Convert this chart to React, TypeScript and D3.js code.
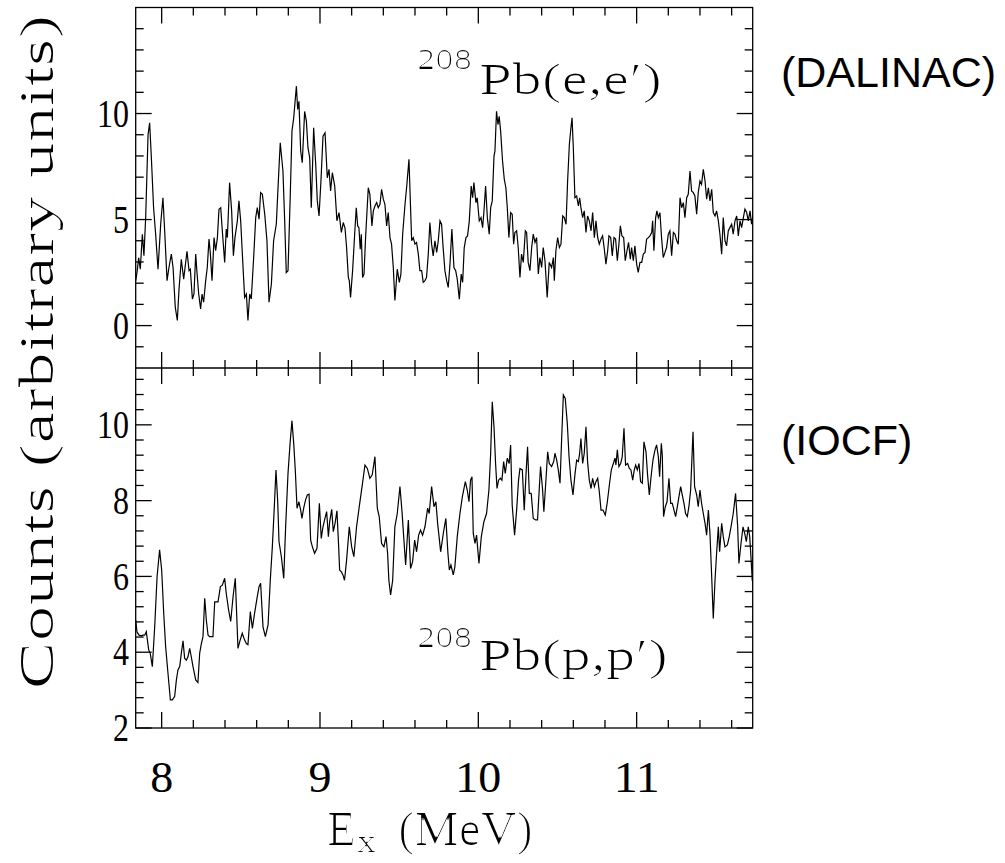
import React from 'react';
import * as d3 from 'd3';

// 208Pb(e,e') spectrum (DALINAC)
const eeEnergy = [7.836,7.844,7.855,7.865,7.878,7.888,7.899,7.914,7.924,7.935,7.949,7.962,7.977,7.994,8.008,8.019,8.034,8.046,8.061,8.072,8.086,8.099,8.109,8.124,8.139,8.160,8.173,8.181,8.194,8.204,8.215,8.223,8.234,8.246,8.255,8.265,8.278,8.288,8.299,8.307,8.318,8.331,8.341,8.352,8.362,8.373,8.383,8.398,8.408,8.415,8.429,8.442,8.453,8.463,8.478,8.488,8.499,8.514,8.524,8.535,8.545,8.556,8.566,8.581,8.594,8.604,8.615,8.625,8.636,8.651,8.665,8.678,8.693,8.707,8.724,8.739,8.749,8.766,8.777,8.787,8.798,8.813,8.823,8.834,8.851,8.859,8.867,8.878,8.888,8.903,8.914,8.924,8.935,8.945,8.960,8.973,8.983,8.994,9.006,9.019,9.032,9.046,9.057,9.067,9.078,9.093,9.107,9.120,9.135,
9.147,9.158,9.168,9.179,9.185,9.193,9.206,9.219,9.229,9.238,9.246,9.254,9.261,9.269,9.278,9.288,9.305,9.315,9.328,9.337,9.347,9.358,9.368,9.379,9.389,9.400,9.410,9.421,9.431,9.442,9.452,9.463,9.473,9.488,9.501,9.511,9.522,9.537,9.547,9.562,9.572,9.579,9.589,9.600,9.610,9.621,9.631,9.642,9.652,9.663,9.673,9.684,9.694,9.705,9.715,9.726,9.737,9.747,9.758,9.768,9.777,9.789,9.800,9.810,9.821,9.833,9.846,9.857,9.867,9.880,9.892,9.901,9.911,9.922,9.932,9.943,9.955,9.964,9.972,9.985,9.993,10.006,10.017,10.027,10.035,10.046,10.057,10.069,10.078,10.088,10.099,10.105,10.115,10.124,10.132,10.141,10.153,10.164,10.174,10.183,10.193,10.204,10.214,10.223,10.231,10.242,10.252,10.263,10.273,10.284,10.297,10.305,10.315,10.326,10.337,10.347,10.358,10.368,10.379,10.389,10.400,10.410,10.421,10.435,10.448,
10.463,10.474,10.480,10.490,10.501,10.512,10.522,10.533,10.543,10.554,10.564,10.575,10.585,10.592,10.600,10.610,10.621,10.632,10.640,10.648,10.659,10.669,10.680,10.690,10.701,10.712,10.722,10.733,10.743,10.754,10.764,10.775,10.785,10.796,10.806,10.817,10.825,10.836,10.846,10.857,10.867,10.878,10.888,10.897,10.907,10.918,10.928,10.939,10.949,10.960,10.968,10.979,10.989,11.000,11.010,11.021,11.032,11.042,11.053,11.063,11.074,11.084,11.095,11.101,11.109,11.120,11.128,11.137,11.147,11.158,11.168,11.179,11.189,11.200,11.210,11.221,11.232,11.242,11.253,11.263,11.274,11.284,11.295,11.305,11.316,11.326,11.337,11.347,11.358,11.368,11.379,11.389,11.400,11.410,11.421,11.432,11.442,11.453,11.463,11.474,11.484,11.495,11.505,11.516,11.526,11.537,11.547,11.558,11.568,11.579,11.589,11.600,11.610,11.621,11.632,11.642,11.653,11.663,11.674,11.684,11.695,11.705,11.716,11.726,11.737];
const eeCounts = [2.12,2.5,3.2,2.66,4.3,3.3,5.1,9.0,9.56,7.9,5.56,4.3,2.66,4.8,6.03,4.47,2.12,2.74,3.37,2.74,0.86,0.24,1.65,3.13,2.19,3.5,2.59,2.66,1.25,1.49,3.37,2.5,1.49,0.78,1.49,1.1,2.12,2.74,4.08,3.45,2.12,4.15,3.53,4.15,5.49,5.56,4.47,2.98,4.55,4.15,6.74,5.41,3.29,4.15,4.94,5.88,4.94,2.74,1.33,1.49,0.24,1.49,1.25,3.21,5.09,5.56,5.02,6.27,6.19,5.25,4.0,1.1,1.96,4.0,4.78,7.13,8.62,7.29,4.94,2.5,2.59,6.35,9.17,9.8,11.29,10.19,10.58,8.23,7.68,10.1,9.64,8.39,7.92,5.56,9.33,7.6,5.88,5.17,6.82,8.93,9.09,6.97,7.37,6.35,7.21,6.58,4.94,5.33,4.39,
4.86,4.6,3.68,2.27,2.12,1.33,2.59,4.31,5.56,4.7,4.62,3.6,4.31,2.27,2.43,4.15,6.5,6.19,4.7,5.41,5.64,5.8,5.56,5.72,6.43,5.96,5.72,4.7,5.33,4.15,3.84,2.74,1.18,2.66,2.04,2.43,4.31,5.72,6.5,7.84,5.56,4.0,4.15,3.84,3.92,3.37,2.59,2.59,2.04,2.12,2.27,3.37,4.86,3.84,3.29,4.0,3.45,4.0,4.94,4.78,3.76,2.59,2.12,1.8,2.9,4.55,2.74,2.59,2.19,1.25,2.43,2.04,3.68,4.15,4.23,4.94,6.58,6.03,6.74,5.8,6.03,4.94,5.09,4.62,5.33,6.58,5.09,4.31,5.56,5.88,7.99,8.23,10.11,9.48,9.87,9.17,7.76,6.9,6.5,5.56,4.15,5.33,5.25,3.84,4.39,4.47,3.68,2.27,3.37,2.98,4.47,4.39,2.98,2.59,3.68,4.31,3.92,4.15,2.43,3.21,2.74,3.68,3.06,1.33,2.98,
2.74,3.21,2.12,3.53,4.15,3.68,3.84,5.17,5.09,4.78,6.82,8.54,9.33,9.8,8.39,6.03,6.11,5.64,6.03,5.56,5.09,5.41,4.39,5.17,4.94,4.47,5.33,4.15,4.94,4.15,3.84,4.08,4.23,3.6,2.9,3.53,4.23,4.15,3.29,4.15,4.08,3.06,3.84,4.7,4.23,4.15,3.06,3.53,3.92,3.13,3.68,3.06,3.76,2.9,2.51,2.98,2.98,3.37,3.45,4.08,4.15,4.23,4.39,4.94,3.53,5.09,5.41,5.09,5.33,4.08,3.21,3.45,3.68,4.31,4.47,3.29,4.39,4.31,4.0,3.84,6.03,5.56,5.8,5.09,6.03,6.19,7.29,6.35,6.27,6.11,5.25,6.27,6.82,6.66,7.37,6.82,5.96,6.5,5.88,6.43,5.33,5.17,5.41,4.94,4.31,3.37,5.09,4.0,3.76,4.47,4.62,4.78,4.31,4.94,5.17,4.23,4.94,4.62,5.09,5.49,5.33,4.94,5.41,4.78,5.33];

// 208Pb(p,p') spectrum (IOCF)
const ppEnergy = [7.836,7.844,7.857,7.872,7.882,7.893,7.903,7.918,7.928,7.941,7.956,7.971,7.987,8.000,8.013,8.025,8.040,8.055,8.067,8.082,8.093,8.103,8.114,8.124,8.135,8.145,8.156,8.166,8.177,8.187,8.198,8.215,8.229,8.240,8.251,8.261,8.272,8.282,8.293,8.303,8.324,8.335,8.356,8.371,8.383,8.398,8.408,8.423,8.436,8.451,8.465,8.482,8.493,8.509,8.524,8.535,8.545,8.560,8.573,8.587,8.602,8.615,8.625,8.640,8.655,8.672,8.686,8.699,8.712,8.722,8.733,8.741,8.756,8.771,8.783,8.798,8.811,8.823,8.834,8.844,8.855,8.867,8.878,8.886,8.897,8.909,8.920,8.931,8.941,8.952,8.966,8.981,8.996,9.008,9.019,9.029,9.042,9.053,9.061,9.074,9.084,9.095,9.107,9.118,9.124,9.135,9.145,
9.155,9.168,9.185,9.200,9.214,9.231,9.248,9.267,9.284,9.299,9.315,9.330,9.347,9.362,9.374,9.389,9.404,9.417,9.427,9.435,9.446,9.459,9.473,9.488,9.505,9.518,9.530,9.541,9.558,9.572,9.585,9.598,9.610,9.623,9.635,9.648,9.663,9.680,9.690,9.705,9.720,9.732,9.743,9.751,9.762,9.779,9.795,9.808,9.817,9.827,9.842,9.852,9.867,9.884,9.899,9.918,9.930,9.941,9.951,9.960,9.968,9.979,9.989,10.004,10.019,10.035,10.052,10.067,10.078,10.088,10.099,10.109,10.118,10.128,10.139,10.149,10.160,10.170,10.183,10.195,10.204,10.214,10.229,10.242,10.254,10.263,10.278,10.290,10.301,10.311,10.322,10.334,10.347,10.362,10.374,10.385,10.393,10.406,10.414,10.427,10.438,10.448,
10.463,10.476,10.484,10.495,10.505,10.516,10.526,10.537,10.549,10.562,10.573,10.585,10.598,10.610,10.621,10.632,10.640,10.648,10.659,10.669,10.680,10.690,10.701,10.712,10.722,10.733,10.743,10.754,10.764,10.775,10.787,10.802,10.815,10.829,10.840,10.853,10.863,10.869,10.878,10.888,10.899,10.909,10.920,10.930,10.943,10.954,10.964,10.975,10.985,10.994,11.004,11.015,11.025,11.036,11.046,11.059,11.069,11.080,11.090,11.103,11.116,11.126,11.137,11.145,11.156,11.162,11.170,11.181,11.192,11.204,11.215,11.225,11.236,11.246,11.257,11.267,11.278,11.288,11.299,11.309,11.320,11.330,11.341,11.356,11.366,11.379,11.389,11.400,11.410,11.421,11.432,11.442,11.453,11.463,11.474,11.484,11.495,11.505,11.516,11.524,11.537,11.547,11.558,11.573,11.585,11.596,11.610,11.625,11.638,11.646,11.659,11.672,11.682,11.693,11.705,11.714,11.722,11.730,11.737];
const ppCounts = [4.85,4.54,4.45,4.43,4.45,4.45,4.54,4.06,3.97,3.62,4.67,5.99,6.7,6.17,5.03,4.15,3.44,2.74,2.74,2.83,3.27,3.53,3.62,3.97,4.3,3.84,3.79,3.88,4.1,3.88,3.62,3.27,3.2,3.97,4.23,4.41,5.42,4.85,4.45,4.41,4.41,5.33,5.33,5.73,5.77,5.95,5.55,5.11,4.81,5.47,5.95,4.1,4.28,4.5,4.32,4.23,4.2,5.07,4.63,5.03,5.42,5.73,5.82,4.67,4.41,4.72,5.9,6.78,7.88,8.81,7.97,6.92,6.52,5.95,7.31,8.72,9.51,10.11,9.51,8.81,7.8,7.97,7.75,7.53,7.8,8.02,8.15,8.17,6.96,6.78,6.61,6.74,7.93,7.0,7.31,7.49,7.71,7.05,7.44,7.77,7.18,7.4,7.73,6.78,6.17,6.12,6.04,
5.9,6.43,7.31,6.78,6.52,7.31,7.84,8.41,8.94,8.85,8.59,8.68,9.16,7.8,7.58,6.87,6.78,7.05,6.61,5.9,5.51,5.9,7.31,7.66,8.37,7.71,6.96,6.3,7.49,6.21,6.39,6.96,6.65,7.09,7.22,7.09,7.31,7.8,7.66,8.37,7.84,7.97,7.4,7.09,6.65,7.14,7.53,6.61,6.17,6.3,6.04,6.26,7.05,7.66,8.1,8.5,8.28,7.97,8.54,8.63,7.14,6.87,7.09,6.34,7.05,7.44,7.66,8.28,9.25,10.61,9.95,8.98,8.32,8.54,8.59,8.54,9.03,8.72,9.12,8.98,9.47,7.88,7.09,7.75,8.54,8.85,8.81,7.75,8.68,9.42,8.19,8.19,7.53,7.49,7.49,8.32,8.9,8.28,7.71,8.54,9.29,8.98,
8.9,9.03,9.25,9.07,8.81,8.46,9.6,10.79,10.7,10.04,9.16,8.54,8.15,8.68,9.07,9.03,9.25,9.64,8.98,9.25,9.95,9.03,8.54,8.32,8.59,8.37,8.5,8.59,8.24,7.75,7.75,7.62,7.97,8.46,8.81,8.98,9.12,8.94,9.34,8.9,8.98,9.16,9.91,8.94,8.98,8.85,8.81,8.54,8.81,8.94,8.81,8.98,8.5,8.46,9.55,9.29,8.68,8.15,8.59,9.07,9.34,9.47,9.16,8.63,9.51,9.2,7.58,7.84,7.97,8.59,7.93,7.93,7.75,7.58,7.84,8.1,8.37,8.15,7.93,7.66,7.58,7.84,8.28,9.82,8.37,8.15,7.84,8.28,7.93,7.66,7.4,7.09,7.75,7.14,5.99,4.89,5.9,6.61,7.31,6.65,7.4,7.05,6.78,6.83,7.05,7.31,7.66,8.19,7.31,6.34,6.87,7.31,7.14,6.92,7.31,7.05,6.52,5.9,5.8];

const xDomain = [7.836, 11.733];
const xMajorTicks = [8, 9, 10, 11];
const xTickLabels = ['8', '9', '10', '11'];
const eeDomain = [-2, 15];
const eeMajorTicks = [0, 5, 10];
const eeTickLabels = ['0', '5', '10'];
const ppDomain = [2, 11.5];
const ppMajorTicks = [2, 4, 6, 8, 10];
const ppTickLabels = ['2', '4', '6', '8', '10'];

const SERIF = "'Liberation Serif', 'DejaVu Serif', serif";
const SANS = "'Liberation Sans', Arial, sans-serif";

export default function App() {
  const L = 135.7, R = 752.7, T = 7.5, M = 368, B = 728;
  const x = d3.scaleLinear().domain(xDomain).range([L, R]);
  const yTop = d3.scaleLinear().domain(eeDomain).range([M, T]);
  const yBot = d3.scaleLinear().domain(ppDomain).range([B, M]);

  const near = (a: number, arr: number[]) => arr.some((v) => Math.abs(v - a) < 1e-6);
  const xMinor = d3.range(8.0, 11.7, 0.2).map((v) => +v.toFixed(2)).filter((v) => !near(v, xMajorTicks));
  const eeMinor = d3.range(-1, 15, 1).filter((v) => !near(v, eeMajorTicks));
  const ppMinor = d3.range(2.4, 11.5, 0.4).map((v) => +v.toFixed(2)).filter((v) => !near(v, ppMajorTicks));

  const eeLine = d3.line<number>().x((_, i) => x(eeEnergy[i])).y((d) => yTop(d));
  const ppLine = d3.line<number>().x((_, i) => x(ppEnergy[i])).y((d) => yBot(d));

  const MAJ = 16, MIN = 8;
  const sw = 1.3;

  const panelTicks = (y: any, top: number, bottom: number, major: number[], minor: number[], key: string) => {
    const out: any[] = [];
    xMajorTicks.forEach((v, i) => {
      out.push(<line key={`${key}xt${i}`} x1={x(v)} x2={x(v)} y1={top} y2={top + MAJ} />);
      out.push(<line key={`${key}xb${i}`} x1={x(v)} x2={x(v)} y1={bottom} y2={bottom - MAJ} />);
    });
    xMinor.forEach((v, i) => {
      out.push(<line key={`${key}mt${i}`} x1={x(v)} x2={x(v)} y1={top} y2={top + MIN} />);
      out.push(<line key={`${key}mb${i}`} x1={x(v)} x2={x(v)} y1={bottom} y2={bottom - MIN} />);
    });
    major.forEach((v, i) => {
      out.push(<line key={`${key}yl${i}`} x1={L} x2={L + MAJ} y1={y(v)} y2={y(v)} />);
      out.push(<line key={`${key}yr${i}`} x1={R} x2={R - MAJ} y1={y(v)} y2={y(v)} />);
    });
    minor.forEach((v, i) => {
      out.push(<line key={`${key}ml${i}`} x1={L} x2={L + MIN} y1={y(v)} y2={y(v)} />);
      out.push(<line key={`${key}mr${i}`} x1={R} x2={R - MIN} y1={y(v)} y2={y(v)} />);
    });
    return out;
  };

  return (
    <svg width={1005} height={863} style={{ position: 'absolute', left: 0, top: 0, background: '#fff' }}>
      <defs>
        <clipPath id="clipTop"><rect x={L} y={T} width={R - L} height={M - T} /></clipPath>
        <clipPath id="clipBot"><rect x={L} y={M} width={R - L} height={B - M} /></clipPath>
        <filter id="thin" x="-5%" y="-20%" width="110%" height="140%">
          <feMorphology operator="erode" radius="1 0" />
        </filter>
      </defs>

      <path d={eeLine(eeCounts) || ''} fill="none" stroke="#000" strokeWidth={1.2} clipPath="url(#clipTop)" />
      <path d={ppLine(ppCounts) || ''} fill="none" stroke="#000" strokeWidth={1.2} clipPath="url(#clipBot)" />

      <g stroke="#000" strokeWidth={sw} fill="none">
        <rect x={L} y={T} width={R - L} height={B - T} />
        <line x1={L} x2={R} y1={M} y2={M} />
        {panelTicks(yTop, T, M, eeMajorTicks, eeMinor, 'top')}
        {panelTicks(yBot, M, B, ppMajorTicks, ppMinor, 'bot')}
      </g>

      <g fontFamily={SERIF} fontSize={39} fill="#000" textAnchor="end">
        {eeMajorTicks.map((v, i) => (
          <text key={`el${i}`} x={129} y={yTop(v)} dy="0.34em" textLength={eeTickLabels[i].length * 16} lengthAdjust="spacingAndGlyphs">{eeTickLabels[i]}</text>
        ))}
        {ppMajorTicks.map((v, i) => (
          <text key={`pl${i}`} x={129} y={yBot(v)} dy="0.34em" textLength={ppTickLabels[i].length * 16} lengthAdjust="spacingAndGlyphs">{ppTickLabels[i]}</text>
        ))}
      </g>
      <g fontFamily={SERIF} fontSize={44} fill="#000" textAnchor="middle">
        {xMajorTicks.map((v, i) => (
          <text key={`xl${i}`} x={x(v)} y={792} textLength={xTickLabels[i].length * 23} lengthAdjust="spacingAndGlyphs">{xTickLabels[i]}</text>
        ))}
      </g>

      <text fontFamily={SERIF} fontSize={48} fill="#000" textAnchor="middle" filter="url(#thin)"
        transform="translate(53,352) rotate(-90)" textLength={675} lengthAdjust="spacingAndGlyphs">
        Counts (arbitrary units)
      </text>

      <g fontFamily={SERIF} fill="#000" filter="url(#thin)">
        <text x={327} y={845} fontSize={48} textLength={29} lengthAdjust="spacingAndGlyphs">E</text>
        <text x={357} y={852} fontSize={32} textLength={19} lengthAdjust="spacingAndGlyphs">x</text>
        <text x={398} y={845} fontSize={48} textLength={135} lengthAdjust="spacingAndGlyphs">(MeV)</text>
      </g>

      <g fontFamily={SERIF} fill="#000" filter="url(#thin)">
        <text x={417} y={69} fontSize={30} textLength={55} lengthAdjust="spacingAndGlyphs">208</text>
        <text x={479} y={94} fontSize={44} textLength={183} lengthAdjust="spacingAndGlyphs">Pb(e,e′)</text>
      </g>
      <g fontFamily={SERIF} fill="#000" filter="url(#thin)">
        <text x={417} y={647} fontSize={30} textLength={55} lengthAdjust="spacingAndGlyphs">208</text>
        <text x={479} y={670} fontSize={44} textLength={189} lengthAdjust="spacingAndGlyphs">Pb(p,p′)</text>
      </g>

      <g fontFamily={SANS} fontSize={43} fill="#000">
        <text x={781} y={87}>(DALINAC)</text>
        <text x={781} y={455}>(IOCF)</text>
      </g>
    </svg>
  );
}
